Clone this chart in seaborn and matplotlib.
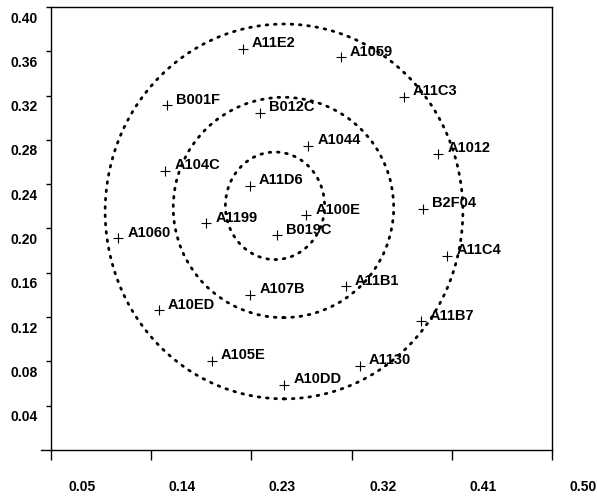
import matplotlib
matplotlib.use("Agg")
import matplotlib.pyplot as plt
from matplotlib.patches import Ellipse
from matplotlib.transforms import ScaledTranslation
import pandas as pd
import seaborn as sns

# sample points
names = ['A11E2', 'A1059', 'B001F', 'B012C', 'A11C3', 'A1044', 'A1012', 'A104C',
         'A11D6', 'B2F04', 'A1199', 'A100E', 'A1060', 'B019C', 'A11C4', 'A107B',
         'A11B1', 'A10ED', 'A11B7', 'A105E', 'A1130', 'A10DD']
xs = [0.2225, 0.3101, 0.1541, 0.2381, 0.3671, 0.2813, 0.3980, 0.1526,
      0.2285, 0.3842, 0.1895, 0.2795, 0.1106, 0.2531, 0.4061, 0.2291,
      0.3150, 0.1466, 0.3821, 0.1946, 0.3272, 0.2594]
ys = [0.3620, 0.3546, 0.3113, 0.3047, 0.3188, 0.2745, 0.2676, 0.2519,
      0.2383, 0.2178, 0.2048, 0.2120, 0.1910, 0.1940, 0.1756, 0.1403,
      0.1478, 0.1261, 0.1161, 0.0808, 0.0760, 0.0588]

# dotted rings (centre x, centre y, width, height)
ring_cx = [0.2512, 0.2588, 0.2593]
ring_cy = [0.2205, 0.2190, 0.2154]
ring_w = [0.0891, 0.1980, 0.3213]
ring_h = [0.0971, 0.1990, 0.3385]

xticks = [0.05, 0.14, 0.23, 0.32, 0.41, 0.50]
yticks = [0.04, 0.08, 0.12, 0.16, 0.20, 0.24, 0.28, 0.32, 0.36, 0.40]

sns.set_style('ticks')
plt.rcParams['font.family'] = ['Liberation Sans', 'DejaVu Sans']
plt.rcParams['font.weight'] = 'bold'
plt.rcParams['text.color'] = 'black'
plt.rcParams['xtick.color'] = 'black'
plt.rcParams['ytick.color'] = 'black'

df = pd.DataFrame({'name': names, 'x': xs, 'y': ys})

fig = plt.figure(figsize=(5.97, 4.97), dpi=100)
ax = fig.add_axes([0.0854, 0.0946, 0.8392, 0.8913])

sns.scatterplot(data=df, x='x', y='y', marker='+', s=42, color='black',
                linewidth=0.8, ax=ax, legend=False, zorder=3)

for n, x, y in zip(names, xs, ys):
    ax.annotate(n, (x, y), xytext=(6.5, -1), textcoords='offset points',
                ha='left', va='bottom', fontsize=10.5, fontweight='bold',
                color='black')

for cx, cy, w, h in zip(ring_cx, ring_cy, ring_w, ring_h):
    ax.add_patch(Ellipse((cx, cy), w, h, fill=False, edgecolor='black',
                         linestyle=(0, (0.6, 2.4)), linewidth=2.0,
                         capstyle='round'))

ax.set_xlim(0.05, 0.50)
ax.set_ylim(0.0, 0.40)
ax.set_xticks(xticks)
ax.set_yticks(yticks)
ax.set_xticklabels(['%.2f' % t for t in xticks])
ax.set_yticklabels(['%.2f' % t for t in yticks])
ax.set_xlabel('')
ax.set_ylabel('')

for s in ax.spines.values():
    s.set_linewidth(1.0)
    s.set_color('black')
ax.spines['bottom'].set_bounds(0.041, 0.50)

ax.tick_params(axis='x', direction='out', length=7.5, width=1.0, pad=14,
               labelsize=10, colors='black')
ax.tick_params(axis='y', direction='out', length=3.5, width=1.0, pad=6,
               labelsize=10, colors='black')

for lab in ax.get_xticklabels():
    lab.set_fontweight('bold')
    lab.set_transform(lab.get_transform() + ScaledTranslation(0.31, 0, fig.dpi_scale_trans))
for lab in ax.get_yticklabels():
    lab.set_fontweight('bold')
    lab.set_transform(lab.get_transform() + ScaledTranslation(0, -0.10, fig.dpi_scale_trans))

fig.savefig('out.png', dpi=100)
